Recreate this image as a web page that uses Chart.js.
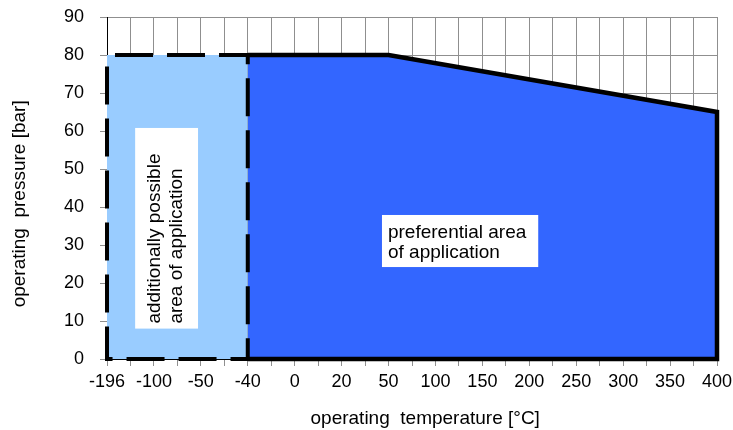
<!DOCTYPE html>
<html>
<head>
<meta charset="utf-8">
<script src="https://cdn.jsdelivr.net/npm/chart.js@4/dist/chart.umd.min.js"></script>
<style>
  body { margin: 0; background: #fff; }
  #wrap { width: 733px; height: 430px; }
</style>
</head>
<body>
<div id="wrap"><canvas id="areaChart"></canvas></div>
<script>
// temperature categories on the x axis (evenly spaced, like the original sheet)
const temperatures = ['-196', '-100', '-50', '-40', '0', '20', '50', '100', '150', '200', '250', '300', '350', '400'];
// pressure tick labels
const pressureTicks = [0, 10, 20, 30, 40, 50, 60, 70, 80, 90];

// preferential area upper limit
const preferredTemps = ['-40', '50', '400'];
const preferredPressure = [80, 80, 65];

// additionally possible area upper limit
const additionalTemps = ['-196', '-40'];
const additionalPressure = [80, 80];

const idx = t => temperatures.indexOf(t);

const preferredPts = preferredTemps.map((t, i) => ({ x: idx(t), y: preferredPressure[i] }));
const additionalPts = additionalTemps.map((t, i) => ({ x: idx(t), y: additionalPressure[i] }));

// closed outlines
const preferredOutline = preferredPts.concat([
    { x: preferredPts[preferredPts.length - 1].x, y: 0 },
    { x: preferredPts[0].x, y: 0 }
]);
const a0 = additionalPts[0], a1 = additionalPts[additionalPts.length - 1];
const additionalOutline = [
    { x: a0.x, y: a0.y }, { x: a1.x, y: a1.y },
    { x: a1.x, y: 0 }, { x: a0.x, y: 0 }, { x: a0.x, y: a0.y }
];

// white text boxes (anchored in data space)
const textBoxes = {
    id: 'textBoxes',
    afterDatasetsDraw(chart) {
        const ctx = chart.ctx;
        const xs = chart.scales.x, ys = chart.scales.y;
        ctx.save();
        ctx.font = '19px "Liberation Sans", Arial, sans-serif';
        ctx.fillStyle = '#000';
        ctx.textBaseline = 'alphabetic';

        // additionally possible area (rotated)
        let l = xs.getPixelForValue(0.6), r = xs.getPixelForValue(1.94);
        let t = ys.getPixelForValue(60.8), b = ys.getPixelForValue(8);
        ctx.fillStyle = '#fff';
        ctx.fillRect(l, t, r - l, b - t);
        ctx.fillStyle = '#000';
        ctx.save();
        ctx.translate(l, b - 5);
        ctx.rotate(-Math.PI / 2);
        ctx.textAlign = 'left';
        ctx.fillText('additionally possible', 0, 25);
        ctx.fillText('area of application', 0, 47);
        ctx.restore();

        // preferential area
        l = xs.getPixelForValue(5.86); r = xs.getPixelForValue(9.19);
        t = ys.getPixelForValue(37.9); b = ys.getPixelForValue(24.2);
        ctx.fillStyle = '#fff';
        ctx.fillRect(l, t, r - l, b - t);
        ctx.fillStyle = '#000';
        ctx.textAlign = 'left';
        ctx.fillText('preferential area', l + 6, t + 23);
        ctx.fillText('of application', l + 6, t + 43);
        ctx.restore();
    }
};

Chart.defaults.font.family = '"Liberation Sans", Arial, sans-serif';
Chart.defaults.font.size = 18;
Chart.defaults.color = '#000';

const gridGrey = '#8f8f8f';

const ctx = document.getElementById('areaChart').getContext('2d');
const areaChart = new Chart(ctx, {
    type: 'line',
    data: {
        datasets: [
            {
                // dashed outline of the additional area
                data: additionalOutline,
                borderColor: '#000',
                borderWidth: 4,
                borderDash: [38, 14],
                borderDashOffset: 44,
                fill: false,
                pointRadius: 0,
                tension: 0,
                clip: false
            },
            {
                // solid outline of the preferential area
                data: preferredOutline,
                borderColor: '#000',
                borderWidth: 4.5,
                fill: false,
                pointRadius: 0,
                tension: 0,
                clip: false
            },
            {
                data: preferredPts,
                borderWidth: 0,
                borderColor: 'rgba(0,0,0,0)',
                backgroundColor: '#3366FF',
                fill: 'origin',
                pointRadius: 0,
                tension: 0
            },
            {
                data: additionalPts,
                borderWidth: 0,
                borderColor: 'rgba(0,0,0,0)',
                backgroundColor: '#99CCFF',
                fill: 'origin',
                pointRadius: 0,
                tension: 0
            }
        ]
    },
    options: {
        responsive: true,
        maintainAspectRatio: false,
        animation: false,
        layout: {
            padding: { top: 17, right: 16, left: 0, bottom: 0 }
        },
        plugins: {
            legend: { display: false },
            tooltip: { enabled: false }
        },
        scales: {
            x: {
                type: 'linear',
                min: 0,
                max: temperatures.length - 1,
                afterFit: s => {
                    s.height = 71;
                    s.paddingLeft = 0;
                    s.paddingRight = 0;
                },
                border: { color: '#000', width: 1 },
                grid: {
                    color: gridGrey,
                    tickColor: gridGrey,
                    tickLength: 7
                },
                ticks: {
                    stepSize: 0.5,
                    autoSkip: false,
                    maxRotation: 0,
                    padding: 5,
                    callback: v => Number.isInteger(v) ? temperatures[v] : ''
                },
                title: {
                    display: true,
                    // leading spaces nudge the title right, as in the original
                    text: '     operating  temperature [°C]',
                    font: { size: 19 },
                    padding: { top: 0, bottom: 0 }
                }
            },
            y: {
                min: pressureTicks[0],
                max: pressureTicks[pressureTicks.length - 1],
                afterFit: s => {
                    s.width = 107;
                    s.paddingTop = 0;
                    s.paddingBottom = 0;
                },
                border: { color: '#000', width: 1 },
                grid: {
                    color: c => (c.tick && c.tick.value % 10 === 0) ? gridGrey : 'rgba(0,0,0,0)',
                    tickColor: gridGrey,
                    tickLength: 7
                },
                ticks: {
                    stepSize: 5,
                    padding: 16,
                    callback: v => pressureTicks.includes(v) ? v : ''
                },
                title: {
                    display: true,
                    text: 'operating  pressure [bar]      ',
                    font: { size: 19 },
                    padding: { top: 8, bottom: 0 }
                }
            }
        }
    },
    plugins: [textBoxes]
});
</script>
</body>
</html>
